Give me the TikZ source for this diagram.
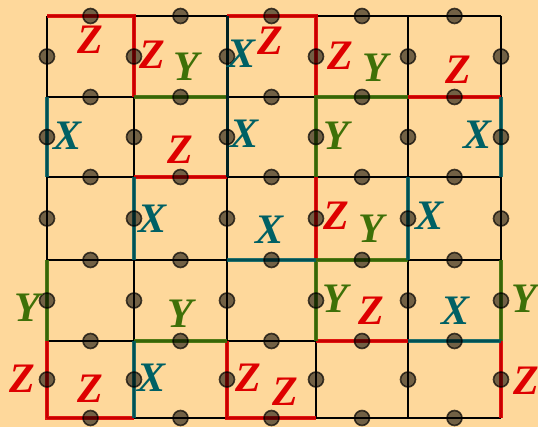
\documentclass[tikz,border=0pt]{standalone}
\usepackage{fontspec}
\setmainfont{Liberation Serif}
\usepackage{xcolor}
\usetikzlibrary{calc}
\definecolor{bgorange}{RGB}{254,216,155}
\definecolor{zred}{RGB}{222,0,0}
\definecolor{ygreen}{RGB}{62,112,8}
\definecolor{xteal}{RGB}{0,96,100}

\begin{document}
\begin{tikzpicture}[x=1pt,y=-1pt,
  gridline/.style={line width=1.5pt,black},
  zedge/.style={line width=3.5pt,zred,opacity=.9,line join=miter},
  yedge/.style={line width=3.5pt,ygreen,opacity=.9,line join=miter},
  xedge/.style={line width=3.5pt,xteal,opacity=.85,line join=miter},
  qubit/.style={circle,minimum size=15pt,inner sep=0pt,fill=black,fill opacity=.55,draw=black,draw opacity=.7,line width=1.6pt},
  lab/.style={inner sep=0pt,font=\fontsize{42}{42}\selectfont\bfseries\itshape},
  zlab/.style={lab,text=zred},
  ylab/.style={lab,text=ygreen},
  xlab/.style={lab,text=xteal}]
\fill[bgorange](0,0)rectangle(538,427);
\useasboundingbox(0,0)rectangle(538,427);
% lattice points
\foreach \x [count=\i from 0] in {47,134,227,316,408,501}{
  \foreach \y [count=\j from 0] in {16,97,177,260,341,418}{
    \coordinate (g\i\j) at (\x,\y);
  }
}
% grid
\foreach \i in {0,...,5}{
  \draw[gridline](g\i0)--(g\i5);
  \draw[gridline](g0\i)--(g5\i);
}
% Z edges
\draw[zedge](g00)--(g10)--(g11);
\draw[zedge](g20)--(g30)--(g31);
\draw[zedge](g12)--(g22);
\draw[zedge](g41)--(g51);
\draw[zedge](g32)--(g33);
\draw[zedge](g34)--(g44);
\draw[zedge](g04)--(g05)--(g15);
\draw[zedge](g24)--(g25)--(g35);
\draw[zedge](g54)--(g55);
% Y edges
\draw[yedge](g11)--(g21);
\draw[yedge](g41)--(g31)--(g32);
\draw[yedge](g43)--(g33)--(g34);
\draw[yedge](g03)--(g04);
\draw[yedge](g14)--(g24);
\draw[yedge](g53)--(g54);
% X edges
\draw[xedge](g01)--(g02);
\draw[xedge](g51)--(g52);
\draw[xedge](g12)--(g13);
\draw[xedge](g23)--(g33);
\draw[xedge](g42)--(g43);
\draw[xedge](g14)--(g15);
\draw[xedge](g44)--(g54);
\draw[line width=3pt,xteal!35!black](g20)--(g22);
% qubits on edge midpoints
\foreach \i [evaluate=\i as \k using int(\i+1)] in {0,...,4}{
  \foreach \j in {0,...,5}{
    \node[qubit] (h\i\j) at ($(g\i\j)!.5!(g\k\j)$) {};
    \node[qubit] (v\j\i) at ($(g\j\i)!.5!(g\j\k)$) {};
  }
}
% labels
\node[zlab] (za) at (90,40) {Z};
\node[zlab] (zb) at (152,55) {Z};
\node[ylab] (ya) at (186,67) {Y};
\node[xlab] (xa) at (242,54) {X};
\node[zlab] (zc) at (270,41) {Z};
\node[zlab] (zd) at (340,56) {Z};
\node[ylab] (yb) at (375,68) {Y};
\node[zlab] (ze) at (458,70) {Z};
\node[xlab] (xb) at (68,136) {X};
\node[zlab] (zf) at (180,150) {Z};
\node[xlab] (xc) at (245,134) {X};
\node[ylab] (yc) at (336,136) {Y};
\node[xlab] (xd) at (478,135) {X};
\node[xlab] (xe) at (153,219) {X};
\node[xlab] (xf) at (270,230) {X};
\node[zlab] (zg) at (336,216) {Z};
\node[ylab] (yd) at (371,229) {Y};
\node[xlab] (xg) at (430,216) {X};
\node[ylab] (ye) at (27,308) {Y};
\node[ylab] (yf) at (180,314) {Y};
\node[ylab] (yg) at (335,299) {Y};
\node[zlab] (zh) at (371,311) {Z};
\node[xlab] (xh) at (456,311) {X};
\node[ylab] (yh) at (524,299) {Y};
\node[zlab] (zi) at (22,379) {Z};
\node[zlab] (zj) at (90,389) {Z};
\node[xlab] (xi) at (152,378) {X};
\node[zlab] (zk) at (248,378) {Z};
\node[zlab] (zl) at (285,392) {Z};
\node[zlab] (zm) at (526,381) {Z};
\end{tikzpicture}
\end{document}
